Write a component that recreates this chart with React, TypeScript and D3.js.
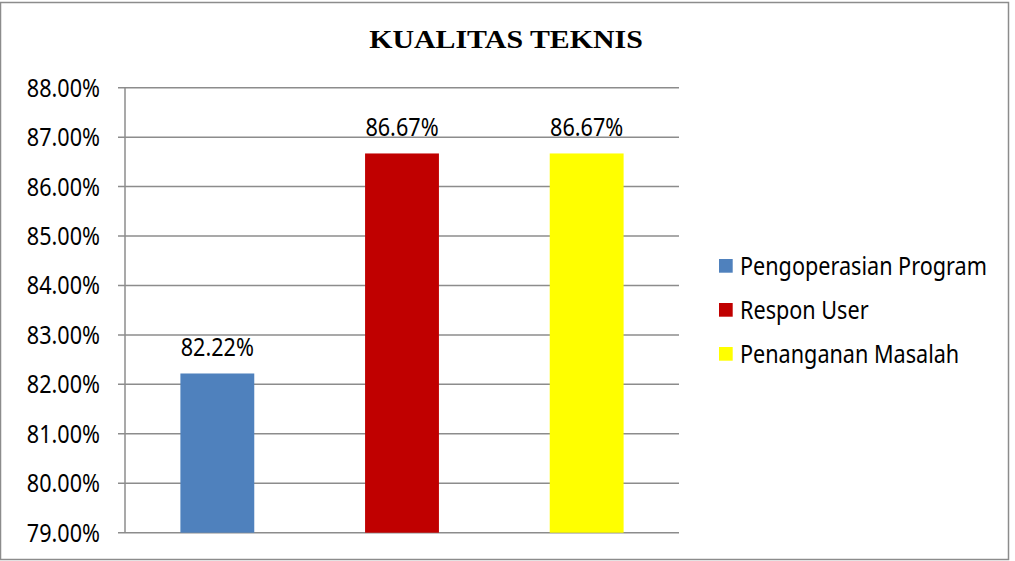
import React from "react";
import * as d3 from "d3";

const categories = ["Pengoperasian Program", "Respon User", "Penanganan Masalah"];
const values = [82.22, 86.67, 86.67];
const colors = ["#4F81BD", "#C00000", "#FFFF00"];
const yTicks = [79, 80, 81, 82, 83, 84, 85, 86, 87, 88];
const title = "KUALITAS TEKNIS";

const W = 1015;
const H = 561;
const font = "'Noto Sans', sans-serif";
const FS = 25;
const SX = 0.865;

function NText({ x, y, anchor, children, dy }: { x: number; y: number; anchor: string; children: React.ReactNode; dy?: string }) {
  return (
    <g transform={`translate(${x},${y}) scale(${SX},1)`}>
      <text x={0} y={0} dy={dy} textAnchor={anchor} fontFamily={font} fontSize={FS} fill="#000">{children}</text>
    </g>
  );
}

export default function App() {
  const x0 = 125, x1 = 679, yTop = 87.7, yBot = 532.7;
  const y = d3.scaleLinear().domain([79, 88]).range([yBot, yTop]);
  const x = d3.scaleBand().domain(categories).range([x0, x1]).paddingInner(0.6).paddingOuter(0.3);
  return (
    <svg width={W} height={H} style={{ position: "absolute", left: 0, top: 0 }}>
      <rect x={0} y={0} width={W} height={H} fill="#fff" />
      <rect x={0.5} y={2.5} width={1008} height={557} fill="none" stroke="#8c8c8c" strokeWidth={1.5} />
      <g transform="translate(506,48) scale(1.22,1)">
        <text x={0} y={0} textAnchor="middle" fontFamily="'Liberation Serif', 'Times New Roman', serif" fontWeight="bold" fontSize={24.5}>{title}</text>
      </g>
      {yTicks.map((t) => (
        <g key={t}>
          <line x1={118} x2={x1} y1={y(t)} y2={y(t)} stroke="#8c8c8c" strokeWidth={1.5} />
          <NText x={100} y={y(t)} dy="0.36em" anchor="end">{t.toFixed(2)}%</NText>
        </g>
      ))}
      <line x1={x0} x2={x0} y1={yTop} y2={yBot} stroke="#8c8c8c" strokeWidth={1.5} />
      {categories.map((c, i) => (
        <g key={c}>
          <rect x={x(c)} y={y(values[i])} width={x.bandwidth()} height={yBot - y(values[i])} fill={colors[i]} />
          <NText x={(x(c) as number) + x.bandwidth() / 2} y={y(values[i]) - 17} anchor="middle">{values[i].toFixed(2)}%</NText>
        </g>
      ))}
      {categories.map((c, i) => (
        <g key={"l" + c}>
          <rect x={719} y={259 + i * 44} width={13.7} height={13.7} fill={colors[i]} />
          <NText x={740} y={266 + i * 44} dy="0.36em" anchor="start">{c}</NText>
        </g>
      ))}
    </svg>
  );
}
